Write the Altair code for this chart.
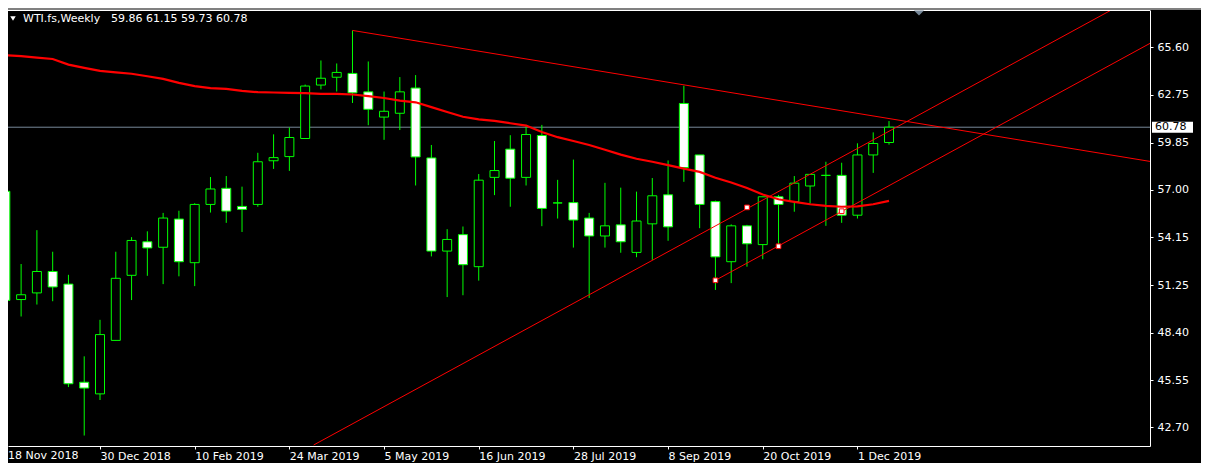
import altair as alt
import pandas as pd

symbol = "WTI.fs,Weekly"

# weekly OHLC, week 0 = 18 Nov 2018
opens = [56.92, 50.40, 50.80, 52.09, 51.33, 45.42, 44.72, 47.94, 51.86, 53.88,
         53.55, 55.25, 52.62, 56.13, 57.10, 56.01, 56.13, 58.76, 59.01, 60.10,
         63.32, 63.79, 64.02, 62.91, 61.39, 61.62, 63.14, 58.93, 53.32, 54.31,
         52.38, 57.76, 59.46, 57.76, 60.28, 56.22, 56.24, 55.31, 54.23, 54.90,
         53.24, 54.96, 56.71, 62.21, 59.11, 56.30, 52.68, 54.84, 53.71, 56.59,
         56.30, 57.24, 57.88, 57.88, 55.48, 59.11, 59.86]
highs = [57.50, 52.54, 54.58, 53.28, 51.89, 46.98, 49.18, 53.28, 54.16, 54.51,
         55.62, 55.75, 56.20, 57.78, 57.84, 57.20, 59.24, 60.35, 60.76, 63.35,
         64.80, 64.62, 66.61, 64.74, 62.93, 63.80, 63.92, 59.71, 54.64, 54.80,
         57.96, 59.95, 60.30, 60.92, 60.92, 57.61, 58.83, 55.62, 57.43, 57.14,
         56.90, 57.72, 58.78, 63.28, 59.11, 56.36, 54.93, 54.90, 56.59, 56.70,
         57.84, 57.94, 58.70, 58.64, 59.81, 60.47, 61.15]
lows = [50.15, 49.38, 50.10, 50.30, 45.13, 42.21, 44.35, 47.94, 50.37, 51.83,
        51.33, 51.80, 51.21, 55.64, 55.02, 54.47, 55.99, 58.27, 58.15, 60.10,
        63.06, 62.93, 62.24, 60.90, 60.02, 60.61, 57.27, 53.00, 50.55, 50.66,
        51.54, 56.69, 55.99, 57.27, 54.82, 55.28, 53.53, 50.49, 53.53, 53.22,
        52.95, 52.79, 53.94, 57.49, 54.70, 50.98, 51.39, 52.38, 52.83, 53.61,
        55.69, 56.18, 54.84, 55.02, 55.28, 58.03, 59.73]
closes = [50.35, 50.69, 52.09, 51.16, 45.33, 45.07, 48.29, 51.68, 53.96, 53.51,
          55.31, 52.68, 56.13, 57.06, 55.73, 55.83, 58.70, 58.95, 60.16, 63.26,
          63.73, 64.08, 62.85, 61.86, 61.74, 62.91, 58.99, 53.32, 54.02, 52.50,
          57.59, 58.17, 57.71, 60.34, 55.89, 56.22, 55.19, 54.23, 54.84, 53.88,
          55.13, 56.65, 54.78, 58.35, 56.13, 52.97, 54.84, 53.76, 56.59, 56.13,
          57.41, 57.94, 57.88, 55.48, 59.11, 59.80, 60.78]
ma = [65.12, 65.06, 64.97, 64.89, 64.55, 64.35, 64.17, 64.08, 64.00, 63.85,
      63.69, 63.45, 63.26, 63.14, 63.09, 62.97, 62.89, 62.87, 62.85, 62.83,
      62.79, 62.79, 62.75, 62.65, 62.54, 62.38, 62.28, 61.99, 61.70, 61.41,
      61.25, 61.16, 61.02, 60.88, 60.49, 60.18, 59.95, 59.71, 59.42, 59.13,
      58.88, 58.70, 58.50, 58.29, 58.09, 57.74, 57.45, 57.12, 56.73, 56.44,
      56.28, 56.14, 56.04, 55.99, 56.01, 56.14, 56.34]

tick_idx = [0, 6, 12, 18, 24, 30, 36, 42, 48, 54]
tick_labels = ["18 Nov 2018", "30 Dec 2018", "10 Feb 2019", "24 Mar 2019",
               "5 May 2019", "16 Jun 2019", "28 Jul 2019", "8 Sep 2019",
               "20 Oct 2019", "1 Dec 2019"]
price_ticks = [42.70, 45.55, 48.40, 51.25, 54.15, 57.00, 59.85, 62.75, 65.60]

# trend lines (week index, price) start -> end
line_x1 = [22, 19.54, 45]
line_y1 = [66.61, 41.64, 51.56]
line_x2 = [72.54, 70.09, 72.54]
line_y2 = [58.72, 67.84, 65.83]
anchor_idx = [45, 47, 49, 53]
anchor_price = [51.56, 55.95, 53.61, 55.72]
shift_marker_idx = [57.9]

x_domain = [0.169, 72.54]
y_domain = [41.58, 67.84]

W, H = 1142, 436
FONT = "DejaVu Sans"
GREEN = "#00FF00"

n = len(opens)
df = pd.DataFrame({
    "i": list(range(n)), "open": opens, "high": highs, "low": lows,
    "close": closes, "ma": ma,
    "dir": ["down" if c < o else "up" for o, c in zip(opens, closes)],
})
df_lines = pd.DataFrame({"x1": line_x1, "y1": line_y1, "x2": line_x2, "y2": line_y2})
df_anch = pd.DataFrame({"i": anchor_idx, "p": anchor_price})
df_last = pd.DataFrame({"p": [closes[-1]], "t": [f"{closes[-1]:.2f}"]})
df_head = pd.DataFrame({
    "name": [symbol],
    "ohlc": [" ".join(f"{v:.2f}" for v in (opens[-1], highs[-1], lows[-1], closes[-1]))],
})
df_shift = pd.DataFrame({"i": shift_marker_idx})
# tick labels whose tick lies left of the visible domain (axis drops them)
df_edge = pd.DataFrame({
    "lab": [l for t, l in zip(tick_idx, tick_labels) if t < x_domain[0]],
})

label_arr = "[" + ",".join("'" + s + "'" for s in tick_labels) + "]"
x_axis = alt.Axis(values=tick_idx, labelExpr=f"{label_arr}[round(datum.value/6)]",
                  orient="bottom", labelAlign="left", labelBaseline="top",
                  labelPadding=1, tickSize=3, labelFlush=False, labelOverlap=False,
                  title=None, grid=False)
y_axis = alt.Axis(values=price_ticks, format=".2f", orient="right", tickSize=3,
                  labelPadding=4, labelOverlap=False, title=None, grid=False,
                  labelBaseline="middle")
x_scale = alt.Scale(domain=x_domain, nice=False, zero=False, padding=0)
y_scale = alt.Scale(domain=y_domain, nice=False, zero=False, padding=0)


def X(f):
    return alt.X(f, type="quantitative", scale=x_scale, axis=x_axis)


def Y(f):
    return alt.Y(f, type="quantitative", scale=y_scale, axis=y_axis)


base = alt.Chart(df)

bid = alt.Chart(df_last).mark_rule(color="#778899", strokeWidth=1).encode(
    y=Y("p"), x=alt.value(0), x2=alt.value(W))

wicks = base.mark_rule(color=GREEN, strokeWidth=1, clip=True).encode(
    x=X("i"), y=Y("low"), y2="high")

bodies = base.mark_bar(size=9, stroke=GREEN, strokeWidth=1, clip=True).encode(
    x=X("i"), y=Y("open"), y2="close",
    fill=alt.Fill("dir:N", scale=alt.Scale(domain=["up", "down"], range=["black", "white"]),
                  legend=None))

ma_line = base.mark_line(color="#FF0000", strokeWidth=2.2, clip=True).encode(
    x=X("i"), y=Y("ma"))

tlines = alt.Chart(df_lines).mark_rule(color="#FF0000", strokeWidth=1, clip=True).encode(
    x=X("x1"), x2="x2", y=Y("y1"), y2="y2")

anchors = alt.Chart(df_anch).mark_square(size=22, filled=True, fill="white",
                                         stroke="#FF0000", strokeWidth=1, opacity=1).encode(
    x=X("i"), y=Y("p"))

top_band = alt.Chart(df_last).mark_rule(color="#808080", strokeWidth=2).encode(
    x=alt.value(0), x2=alt.value(W + 51), y=alt.value(-1))
top_border = alt.Chart(df_last).mark_rule(color="white", strokeWidth=1).encode(
    x=alt.value(0), x2=alt.value(W), y=alt.value(0.5))

shift_mark = alt.Chart(df_shift).mark_point(
    shape="M-1,0L1,0L0,1Z", size=100, filled=True, color="#778899", opacity=1).encode(
    x=X("i"), y=alt.value(0.5))

price_box = alt.Chart(df_last).mark_rule(color="white", strokeWidth=11, strokeCap="butt").encode(
    y=Y("p"), x=alt.value(W + 2), x2=alt.value(W + 43))
price_text = alt.Chart(df_last).mark_text(font=FONT, fontSize=11, color="black",
                                          align="left", baseline="middle").encode(
    y=Y("p"), x=alt.value(W + 5), text="t:N")

edge_label = alt.Chart(df_edge).mark_text(font=FONT, fontSize=11, color="white",
                                          align="left", baseline="top").encode(
    x=alt.value(0), y=alt.value(H + 4), text="lab:N")

head_tri = alt.Chart(df_head).mark_point(shape="triangle-down", size=30, filled=True,
                                         color="white", opacity=1).encode(
    x=alt.value(5), y=alt.value(8.5))
head_name = alt.Chart(df_head).mark_text(font=FONT, fontSize=11, color="white",
                                         align="left", baseline="middle").encode(
    x=alt.value(15), y=alt.value(8.5), text="name:N")
head_ohlc = alt.Chart(df_head).mark_text(font=FONT, fontSize=11, color="white",
                                         align="left", baseline="middle").encode(
    x=alt.value(103), y=alt.value(8.5), text="ohlc:N")

chart = alt.layer(
    bid, wicks, bodies, ma_line, tlines, anchors, top_band, top_border, shift_mark,
    price_box, price_text, edge_label, head_tri, head_name, head_ohlc
).properties(
    width=W, height=H, background="black",
    padding={"left": 0, "top": 2, "right": 51, "bottom": 17},
    autosize=alt.AutoSizeParams(type="none"),
).configure_view(stroke=None).configure_axis(
    labelFont=FONT, labelFontSize=11, labelColor="white", tickColor="white",
    domainColor="white", domainWidth=1, tickWidth=1,
)

chart.save("out.html", embed_options={"renderer": "svg", "actions": False})
